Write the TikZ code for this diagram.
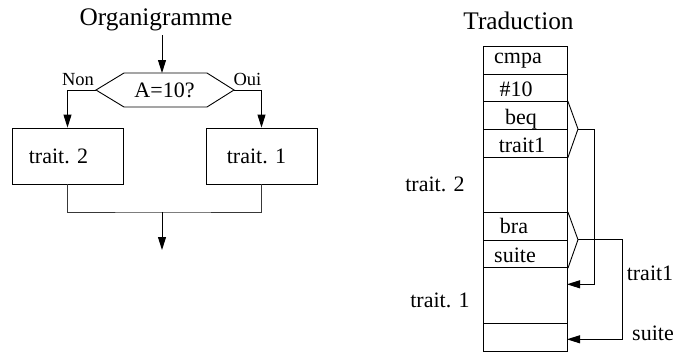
\documentclass[tikz,border=0pt]{standalone}
\usepackage{fontspec}
\setmainfont{Liberation Serif}
\usetikzlibrary{arrows.meta,calc}
\begin{document}
\begin{tikzpicture}[x=1pt,y=-1pt,
  line width=0.9pt,
  title/.style={font=\fontsize{25.3}{30}\selectfont,inner sep=0pt,anchor=base},
  txt/.style={font=\fontsize{22}{26}\selectfont,inner sep=0pt,anchor=base},
  small/.style={font=\fontsize{18.5}{22}\selectfont,inner sep=0pt,anchor=base},
  box/.style={draw,minimum width=111pt,minimum height=56pt,inner sep=0pt},
  cell/.style={draw,anchor=north west,minimum width=84pt,inner sep=0pt},
  arr/.style={-{Triangle[length=13pt,width=8pt]}},
  merge/.style={draw=black!78}]
\useasboundingbox (0,0) rectangle (677,351);

% ---------- flowchart ----------
\node[title] (org) at (156,25) {Organigramme};
\coordinate (in) at (162,35);
\coordinate (decT) at (162,73);
\coordinate (decL) at (96,90);
\coordinate (decR) at (234,90);
\draw (decL) -- (124,73) -- (207,73) -- (decR) -- (207,107) -- (124,107) -- cycle;
\node[txt] (dec) at (164.5,97.5) {A=10?};
\node[small] (non) at (78,85) {Non};
\node[small] (oui) at (247.5,85) {Oui};

\node[box] (t2) at (67.5,156) {};
\node[box] (t1) at (261.5,156) {};
\node[txt] (t2txt) at (58.5,163) {trait. 2};
\node[txt] (t1txt) at (256.5,163) {trait. 1};

\draw[arr] (in) -- (decT);
\draw[arr] (decL) -| (t2.north);
\draw[arr] (decR) -| (t1.north);

\coordinate (m) at (162,212);
\coordinate (out) at (162,250);
\draw[merge] (t2.south) |- (m) -| (t1.south);
\draw[arr] (m) -- (out);

% ---------- translation ----------
\node[title] (trad) at (518.5,29) {Traduction};
\node[cell,minimum height=27.7pt] (c1) at (483,46) {};
\node[cell,minimum height=27.7pt] (c2) at (483,73.7) {};
\node[cell,minimum height=27.7pt] (c3) at (483,101.3) {};
\node[cell,minimum height=27.7pt] (c4) at (483,129) {};
\node[cell,minimum height=55.3pt] (c5) at (483,156.7) {};
\node[cell,minimum height=27.7pt] (c6) at (483,212) {};
\node[cell,minimum height=27.7pt] (c7) at (483,239.7) {};
\node[cell,minimum height=55.7pt] (c8) at (483,267.3) {};
\node[cell,minimum height=27.7pt] (c9) at (483,323) {};

\node[txt] (l1) at (518,63) {cmpa};
\node[txt] (l2) at (516,96.5) {\#10};
\node[txt] (l3) at (521,124) {beq};
\node[txt] (l4) at (522,152) {trait1};
\node[txt] (l6) at (514,233) {bra};
\node[txt] (l7) at (515,262) {suite};

\node[txt] (s2) at (435,191) {trait. 2};
\node[txt] (s1) at (440,307) {trait. 1};
\node[txt] (j1) at (650,280) {trait1};
\node[txt] (j2) at (653,340) {suite};

% branch to trait1
\coordinate (b1) at (578,129);
\coordinate (r1) at (594.3,129);
\coordinate (tg1) at (567,284.3);
\draw (c3.north east) -- (b1) -- (c4.south east);
\draw[arr] (b1) -- (r1) |- (tg1);

% branch to suite
\coordinate (b2) at (578,239.7);
\coordinate (r2) at (622.3,239.7);
\coordinate (tg2) at (567,339.3);
\draw (c6.north east) -- (b2) -- (c7.south east);
\draw[arr] (b2) -- (r2) |- (tg2);
\end{tikzpicture}
\end{document}
